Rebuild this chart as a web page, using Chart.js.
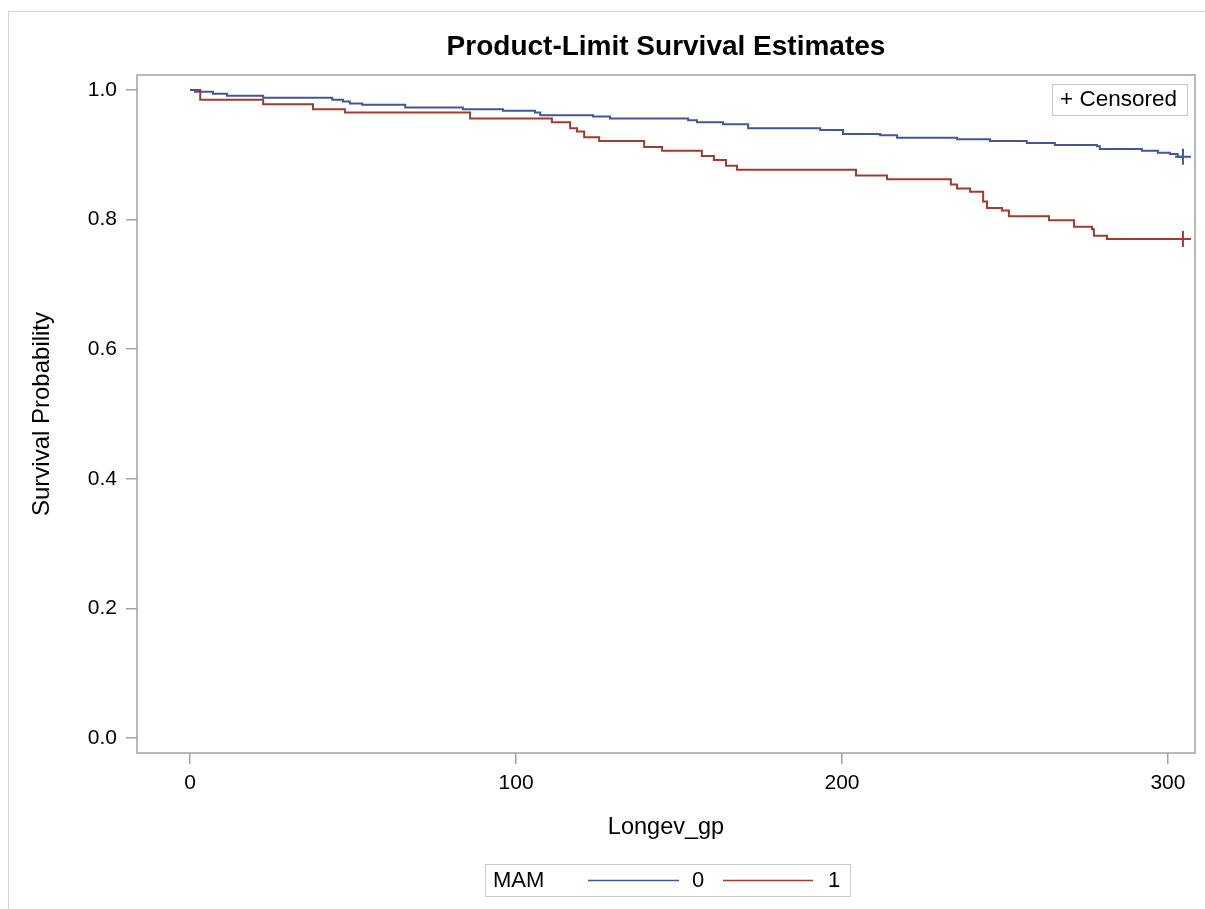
<!DOCTYPE html>
<html>
<head>
<meta charset="utf-8">
<script src="https://cdn.jsdelivr.net/npm/chart.js@4.4.1/dist/chart.umd.min.js"></script>
<style>
  html, body { margin: 0; padding: 0; background: #fff; }
  #wrap { position: relative; width: 1205px; height: 909px; }
</style>
</head>
<body>
<div id="wrap"><canvas id="km" width="1205" height="909"></canvas></div>
<script>
// Kaplan-Meier steps (time of drop, survival after drop)
const timesMam0 = [0, 1.5, 7, 11.3, 22.4, 43.6, 46.9, 49, 52.8, 66, 83.7, 96, 105.8, 107.4, 123.6, 128.8, 152.8, 155.5, 163.5, 171.2, 193.3, 200.3, 211.7, 216.9, 235.3, 245.4, 256.7, 265.3, 278.2, 279.1, 292, 296.9, 300.6, 303, 304.6];
const survMam0 = [1.0, 0.997, 0.994, 0.991, 0.988, 0.985, 0.982, 0.979, 0.977, 0.973, 0.970, 0.968, 0.965, 0.961, 0.959, 0.956, 0.953, 0.950, 0.947, 0.941, 0.938, 0.932, 0.930, 0.926, 0.924, 0.921, 0.918, 0.915, 0.913, 0.909, 0.906, 0.903, 0.901, 0.897, 0.897];

const timesMam1 = [0, 3.1, 22.4, 37.7, 47.5, 85.9, 111, 116.6, 118.7, 120.9, 125.5, 139.3, 144.8, 157, 160.7, 164.4, 167.8, 204.3, 213.8, 233.4, 235.3, 239.3, 243.3, 244.5, 249.1, 251.2, 263.5, 271.2, 276.7, 277.3, 281.3, 304.6];
const survMam1 = [1.0, 0.985, 0.978, 0.970, 0.965, 0.956, 0.950, 0.941, 0.936, 0.927, 0.921, 0.912, 0.906, 0.898, 0.892, 0.883, 0.877, 0.868, 0.862, 0.854, 0.848, 0.843, 0.828, 0.818, 0.814, 0.805, 0.799, 0.789, 0.785, 0.775, 0.770, 0.770];

const censorTimes0 = [304.6];
const censorSurv0 = [0.897];
const censorTimes1 = [304.6];
const censorSurv1 = [0.770];

const groupLabels = ['0', '1'];
const xTicks = [0, 100, 200, 300];
const yTicks = [0.0, 0.2, 0.4, 0.6, 0.8, 1.0];

const BLUE = '#445694';
const RED = '#a23a2e';
const FONT = '"Liberation Sans", Arial, sans-serif';

const pts = (xs, ys) => xs.map((x, i) => ({ x, y: ys[i] }));

// title over the plot area, frame, outer border, censored box and group legend
const decor = {
  id: 'decor',
  beforeDraw(chart) {
    const ctx = chart.ctx;
    ctx.save();
    ctx.strokeStyle = '#d4d4d4';
    ctx.lineWidth = 1;
    ctx.strokeRect(8.5, 11.5, 1210, 920);
    ctx.restore();
  },
  afterDraw(chart) {
    const { ctx, chartArea: a } = chart;
    ctx.save();
    ctx.fillStyle = '#000';
    ctx.font = 'bold 28px ' + FONT;
    ctx.textAlign = 'center';
    ctx.textBaseline = 'middle';
    ctx.fillText('Product-Limit Survival Estimates', (a.left + a.right) / 2, 47);

    ctx.strokeStyle = '#a0a4a8';
    ctx.lineWidth = 1.5;
    ctx.strokeRect(a.left, a.top, a.right - a.left, a.bottom - a.top);

    // censored box
    ctx.strokeStyle = '#c8c8c8';
    ctx.lineWidth = 1;
    ctx.strokeRect(1052.5, 84.5, 135, 31);
    ctx.fillStyle = '#000';
    ctx.font = '22.5px ' + FONT;
    ctx.textAlign = 'left';
    ctx.fillText('+ Censored', 1060, 100);

    // group legend at bottom
    ctx.strokeStyle = '#c8c8c8';
    ctx.strokeRect(485.5, 864.5, 365, 32);
    ctx.fillStyle = '#000';
    ctx.font = '22px ' + FONT;
    ctx.fillText('MAM', 493, 881);
    const items = [[588, 679, 692, BLUE], [723, 813, 828, RED]];
    items.forEach(([x0, x1, tx, col], i) => {
      ctx.strokeStyle = col;
      ctx.lineWidth = 1.5;
      ctx.beginPath();
      ctx.moveTo(x0, 880.5);
      ctx.lineTo(x1, 880.5);
      ctx.stroke();
      ctx.fillStyle = '#000';
      ctx.fillText(groupLabels[i], tx, 881);
    });
    ctx.restore();
  }
};

new Chart(document.getElementById('km'), {
  type: 'line',
  data: {
    datasets: [
      { label: groupLabels[0], data: pts(timesMam0, survMam0), borderColor: BLUE, borderWidth: 2, stepped: 'before', pointRadius: 0, fill: false },
      { label: groupLabels[1], data: pts(timesMam1, survMam1), borderColor: RED, borderWidth: 2, stepped: 'before', pointRadius: 0, fill: false },
      { type: 'scatter', label: 'c0', data: pts(censorTimes0, censorSurv0), borderColor: BLUE, pointStyle: 'cross', pointRadius: 8, pointBorderWidth: 2, showLine: false },
      { type: 'scatter', label: 'c1', data: pts(censorTimes1, censorSurv1), borderColor: RED, pointStyle: 'cross', pointRadius: 8, pointBorderWidth: 2, showLine: false }
    ]
  },
  options: {
    responsive: false,
    animation: false,
    layout: { padding: { left: 28, right: 5, top: 75, bottom: 67 } },
    plugins: {
      legend: { display: false },
      tooltip: { enabled: false },
      title: { display: false }
    },
    scales: {
      x: {
        type: 'linear',
        min: -16.3,
        max: 308.3,
        afterBuildTicks: ax => { ax.ticks = xTicks.map(v => ({ value: v })); },
        afterFit: ax => { ax.height = 89; ax.paddingLeft = 0; ax.paddingRight = 0; },
        grid: { display: true, drawOnChartArea: false, drawTicks: true, tickLength: 11, color: '#a0a4a8', lineWidth: 1.5 },
        border: { display: false },
        ticks: { color: '#000', font: { family: FONT, size: 21 }, padding: 7, maxRotation: 0 },
        title: { display: true, text: 'Longev_gp', color: '#000', font: { family: FONT, size: 23.5 }, padding: 0 }
      },
      y: {
        type: 'linear',
        min: -0.023,
        max: 1.023,
        afterBuildTicks: ax => { ax.ticks = yTicks.map(v => ({ value: v })); },
        afterFit: ax => { ax.width = 109; ax.paddingTop = 0; ax.paddingBottom = 0; },
        grid: { display: true, drawOnChartArea: false, drawTicks: true, tickLength: 11, color: '#a0a4a8', lineWidth: 1.5 },
        border: { display: false },
        ticks: { color: '#000', font: { family: FONT, size: 21 }, padding: 9, callback: v => v.toFixed(1) },
        title: { display: true, text: 'Survival Probability', color: '#000', font: { family: FONT, size: 24 }, padding: 0 }
      }
    }
  },
  plugins: [decor]
});
</script>
</body>
</html>
